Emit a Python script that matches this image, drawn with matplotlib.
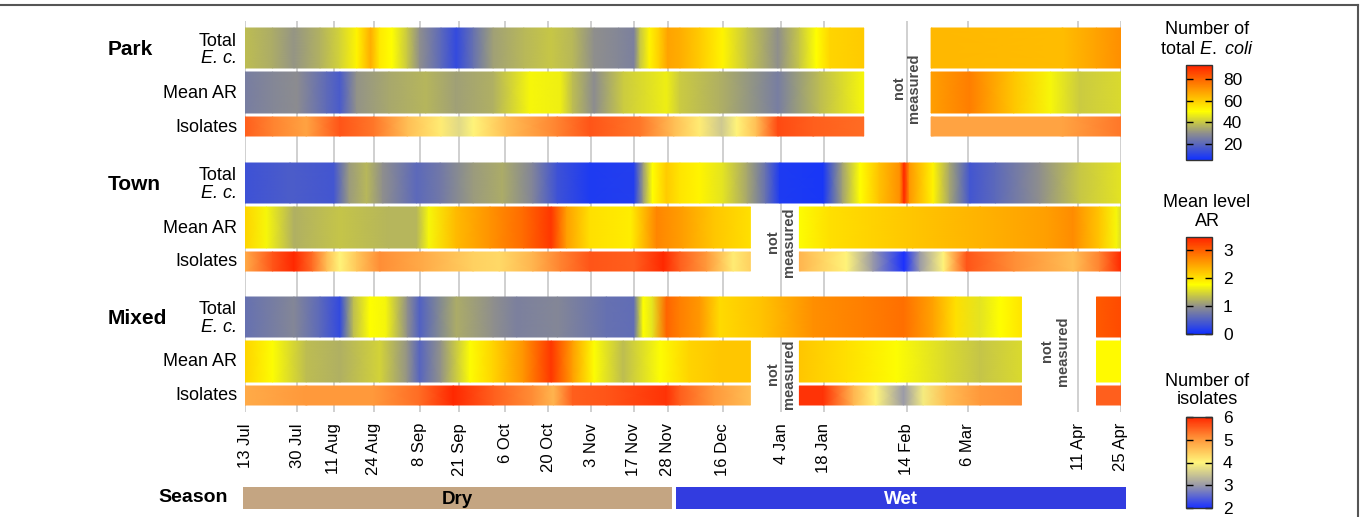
import numpy as np
import matplotlib
matplotlib.use("Agg")
import matplotlib.pyplot as plt
import matplotlib.dates as mdates
from matplotlib.colors import LinearSegmentedColormap, Normalize
from matplotlib.cm import ScalarMappable
from matplotlib.lines import Line2D

plt.rcParams['font.family'] = ['Liberation Sans', 'DejaVu Sans']
plt.rcParams['mathtext.fontset'] = 'custom'
plt.rcParams['mathtext.rm'] = 'Liberation Sans'
plt.rcParams['mathtext.it'] = 'Liberation Sans:italic'

# ---- datos ----
start = np.datetime64('2012-07-13')

tick_days = [0, 17, 29, 42, 57, 70, 85, 99, 113, 127, 138, 156, 175, 189, 216, 236, 272, 286]
tick_labels = ['13 Jul', '30 Jul', '11 Aug', '24 Aug', '8 Sep', '21 Sep', '6 Oct', '20 Oct',
               '3 Nov', '17 Nov', '28 Nov', '16 Dec', '4 Jan', '18 Jan', '14 Feb', '6 Mar',
               '11 Apr', '25 Apr']

# dias desde 13 Jul
park_total_day = [0, 9, 16, 24.5, 31, 36.5, 41, 44, 48, 53, 57, 64, 69, 74.5, 81, 91, 100, 107,
                  114, 122, 127, 129, 132, 135.5, 138, 142, 148.5, 156, 164, 174, 181, 186.5,
                  191, 202, 224, 267, 278, 286]
park_total_val = [38, 35, 31, 36, 42, 52, 66, 54, 50, 40, 30, 20, 12, 22, 33, 37, 40, 37,
                  30, 28, 26, 40, 52, 60, 68, 66, 60, 52, 40, 30, 40, 50,
                  58, 60, 64, 63, 68, 72]
park_ar_day = [0, 9, 17, 26.7, 31, 36.5, 47, 59, 69, 81, 93, 103, 107, 114, 123.5, 137.6, 142,
               155, 174, 187.7, 202, 224, 236.6, 251, 263, 272.6, 286]
park_ar_val = [0.8, 0.9, 0.95, 0.6, 0.45, 1.0, 1.15, 1.25, 1.1, 1.2, 1.7, 1.65, 1.3, 0.95, 1.4,
               1.65, 1.4, 1.2, 0.8, 1.3, 1.7, 2.5, 2.75, 2.2, 1.7, 1.4, 1.5]
park_iso_day = [0, 9, 20, 31, 42, 53, 64, 70, 74.5, 85.4, 102, 112.6, 129, 140, 148.5, 155.6,
                160.5, 167, 174, 185.5, 202, 224, 267, 286]
park_iso_val = [5.5, 5.2, 4.9, 5.6, 5.3, 4.6, 4.1, 3.7, 4.0, 4.6, 5.2, 5.6, 5.3, 4.6, 4.1, 3.5,
                4.0, 4.6, 5.7, 5.5, 5.4, 4.9, 4.9, 5.3]

town_total_day = [0, 14.7, 29, 34, 39.7, 45, 56, 63.7, 74.5, 84, 94, 102, 112.6, 127, 130, 133,
                  137.6, 142, 148.5, 156, 164, 170, 174.6, 188.8, 195, 200.8, 207, 213.8,
                  215.2, 217, 224.7, 230, 236.7, 245, 259.5, 272.6, 286]
town_total_val = [14, 17, 15, 32, 37, 30, 20, 24, 32, 35, 27, 14, 8, 9, 32, 50,
                  60, 55, 52, 45, 34, 22, 8, 7, 33, 50, 62, 72,
                  92, 70, 52, 34, 15, 20, 30, 40, 45]
town_ar_day = [0, 7, 16, 31, 47, 56, 60, 69, 80, 91, 100, 105, 112.6, 126, 134.4, 143, 153,
               165, 181, 191, 218, 240, 261.7, 270.4, 279, 284.5, 286]
town_ar_val = [2.1, 1.7, 1.2, 1.35, 1.25, 1.25, 1.7, 2.3, 2.6, 2.9, 3.3, 2.5, 2.0, 1.9, 2.7,
               2.5, 2.2, 2.0, 1.75, 2.0, 2.2, 2.35, 2.5, 2.65, 2.2, 1.7, 1.5]
town_iso_day = [0, 9, 16, 22, 26.7, 31, 36.5, 44, 58, 74.5, 83, 94, 103, 112.6, 127, 136.6,
                142, 150.7, 159.4, 165, 181, 196.4, 205, 215.2, 220.3, 228, 235.6, 251,
                270.4, 279, 286]
town_iso_val = [4.8, 5.6, 6.0, 5.4, 4.6, 4.0, 4.5, 5.1, 4.8, 4.4, 4.3, 4.7, 5.2, 5.6, 5.5, 6.0,
                5.5, 5.0, 4.1, 4.4, 4.7, 4.0, 3.0, 2.0, 3.0, 4.0, 5.6, 5.1,
                4.6, 5.2, 6.0]

mixed_total_day = [0, 16, 24.5, 31, 35.4, 40.8, 46, 53, 57, 69, 81, 88.7, 102, 118, 127, 130,
                   133, 137.6, 142, 148.5, 155, 169, 185.5, 202, 215, 224.7, 232, 240, 246.5,
                   253.5, 278, 286]
mixed_total_val = [22, 28, 20, 12, 38, 50, 48, 30, 18, 35, 30, 26, 28, 22, 21, 50,
                   45, 80, 75, 70, 57, 62, 72, 75, 78, 68, 56, 45, 50,
                   55, 82, 85]
mixed_ar_day = [0, 9, 20, 31, 44, 53, 57, 64, 73.5, 81, 91, 100, 107, 114, 123.5, 135.5, 145,
                155, 165, 181, 196.4, 212.7, 229, 240, 253.5, 278, 286]
mixed_ar_val = [2.1, 1.75, 1.3, 1.2, 1.45, 1.0, 0.55, 1.0, 1.75, 2.1, 2.6, 3.3, 2.5, 1.75, 1.3,
                1.75, 2.1, 2.2, 2.2, 2.2, 2.0, 1.75, 1.5, 1.35, 1.5, 1.8, 1.8]
mixed_iso_day = [0, 20, 42, 57, 68, 81, 94, 100.7, 107, 118, 137.6, 142, 153, 165, 181, 188.8,
                 198.6, 206, 215, 221.4, 229, 240, 253.5, 278, 286]
mixed_iso_val = [4.8, 5.0, 5.0, 5.4, 6.0, 5.5, 5.1, 4.7, 5.5, 5.6, 5.9, 5.5, 5.0, 4.6, 5.9, 5.9,
                 4.7, 4.0, 3.0, 3.9, 4.6, 5.0, 5.1, 5.5, 5.5]

# periodos sin medicion (dias)
park_gaps = [(202, 224)]
town_gaps = [(165, 181)]
mixed_total_gaps = [(253.5, 278)]
mixed_gaps = [(165, 181), (253.5, 278)]

season_names = ['Dry', 'Wet']
season_start = [-0.5, 140.7]
season_end = [139.3, 287.6]

# ---- figura ----
W, H = 1363, 517
fig = plt.figure(figsize=(W / 100, H / 100), dpi=100)


def fx(x):
    return x / W


def fy(y):
    return 1 - y / H


cmap = LinearSegmentedColormap.from_list(
    'ec', [(0.0, '#1030ff'), (0.28, '#8e8e8e'), (0.51, '#ffff00'), (0.74, '#ff9900'), (1.0, '#ff2200')])
cmap_iso = LinearSegmentedColormap.from_list(
    'iso', [(0.0, '#1a30ff'), (0.25, '#9a9aa8'), (0.5, '#fff57a'), (0.75, '#ff9a3c'), (1.0, '#ff2800')])
norm_ec = Normalize(5, 93)
norm_ar = Normalize(0, 3.45)
norm_iso = Normalize(2, 6)

x0 = mdates.date2num(start)

ax = fig.add_axes([fx(245), fy(412), fx(1121) - fx(245), fy(21) - fy(412)])
ax.set_xlim(x0, x0 + 286)
ax.set_ylim(412, 21)
ax.set_xticks([x0 + d for d in tick_days])
ax.set_xticklabels(tick_labels, rotation=90, fontsize=12)
ax.tick_params(axis='x', length=0, pad=8)
ax.set_yticks([])
for s in ax.spines.values():
    s.set_visible(False)
ax.grid(True, axis='x', color='#c8c8c8', lw=1.2)
ax.set_axisbelow(True)


def dibujar_fila(days, vals, gaps, top, bottom, cm, norm):
    days = np.asarray(days, float)
    vals = np.asarray(vals, float)
    bordes = [days[0]] + [g for gap in gaps for g in gap] + [days[-1]]
    for a, b in zip(bordes[0::2], bordes[1::2]):
        m = (days >= a) & (days <= b)
        x = x0 + days[m]
        X = np.vstack([x, x])
        Y = np.vstack([np.full_like(x, top), np.full_like(x, bottom)])
        C = np.vstack([vals[m], vals[m]])
        ax.pcolormesh(X, Y, C, shading='gouraud', cmap=cm, norm=norm, zorder=2)


grupos = [
    ('Park', 28, (park_total_day, park_total_val, park_gaps),
     (park_ar_day, park_ar_val, park_gaps), (park_iso_day, park_iso_val, park_gaps)),
    ('Town', 163, (town_total_day, town_total_val, []),
     (town_ar_day, town_ar_val, town_gaps), (town_iso_day, town_iso_val, town_gaps)),
    ('Mixed', 297, (mixed_total_day, mixed_total_val, mixed_total_gaps),
     (mixed_ar_day, mixed_ar_val, mixed_gaps), (mixed_iso_day, mixed_iso_val, mixed_gaps)),
]

for nombre, top, tot, ar, iso in grupos:
    dibujar_fila(*tot, top, top + 40, cmap, norm_ec)
    dibujar_fila(*ar, top + 44, top + 85, cmap, norm_ar)
    dibujar_fila(*iso, top + 89, top + 108, cmap_iso, norm_iso)
    fig.text(fx(108), fy(top + 22), nombre, fontsize=15, fontweight='bold', ha='left', va='center')
    fig.text(fx(237), fy(top + 13), 'Total', fontsize=13, ha='right', va='center')
    fig.text(fx(237), fy(top + 30), 'E. c.', fontsize=13, ha='right', va='center', style='italic')
    fig.text(fx(237), fy(top + 65), 'Mean AR', fontsize=13, ha='right', va='center')
    fig.text(fx(237), fy(top + 99), 'Isolates', fontsize=13, ha='right', va='center')

# textos "not measured"
for d, y in [(216, 88), (175, 242), (175, 374), (264.4, 351)]:
    ax.text(x0 + d, y, 'not\nmeasured', rotation=90, ha='center', va='center',
            multialignment='center', fontsize=10.5, fontweight='bold', color='#4a4a4a',
            linespacing=1.15, zorder=3)

# estacion
sax = fig.add_axes([fx(245), fy(509), fx(1121) - fx(245), fy(487) - fy(509)])
sax.set_xlim(x0, x0 + 286)
sax.set_ylim(0, 1)
sax.axis('off')
for nombre, a, b, col, tcol in zip(season_names, season_start, season_end,
                                   ['#c4a582', '#323ce0'], ['black', 'white']):
    sax.barh(0.5, b - a, left=x0 + a, height=1, color=col, clip_on=False)
    sax.text(x0 + (a + b) / 2, 0.45, nombre, ha='center', va='center', fontsize=13.5,
             fontweight='bold', color=tcol)
fig.text(fx(228), fy(498), 'Season', fontsize=14, fontweight='bold', ha='right', va='center')

# barras de color
barras = [
    (cmap, norm_ec, [20, 40, 60, 80], 65, 160, ['Number of', r'total $\it{E.\ coli}$'], 30),
    (cmap, norm_ar, [0, 1, 2, 3], 237, 334, ['Mean level', 'AR'], 202),
    (cmap_iso, norm_iso, [2, 3, 4, 5, 6], 417, 508, ['Number of', 'isolates'], 381),
]
for cm, norm, ticks, y1, y2, titulo, ty in barras:
    cax = fig.add_axes([fx(1185.5), fy(y2), fx(1212) - fx(1185.5), fy(y1) - fy(y2)])
    cb = fig.colorbar(ScalarMappable(norm=norm, cmap=cm), cax=cax, ticks=ticks)
    cb.outline.set_edgecolor('#333333')
    cb.outline.set_linewidth(1)
    cax.tick_params(direction='in', length=5, width=1, left=True, right=True,
                    labelsize=12.5, pad=8)
    for i, t in enumerate(titulo):
        fig.text(fx(1207), fy(ty + 19 * i), t, fontsize=13, ha='center', va='center')

# marco
fig.add_artist(Line2D([0, fx(1358)], [fy(5), fy(5)], transform=fig.transFigure,
                      color='#555555', lw=1.5))
fig.add_artist(Line2D([fx(1358), fx(1358)], [fy(5), 0], transform=fig.transFigure,
                      color='#555555', lw=1.5))

fig.savefig('out.png', dpi=100)
